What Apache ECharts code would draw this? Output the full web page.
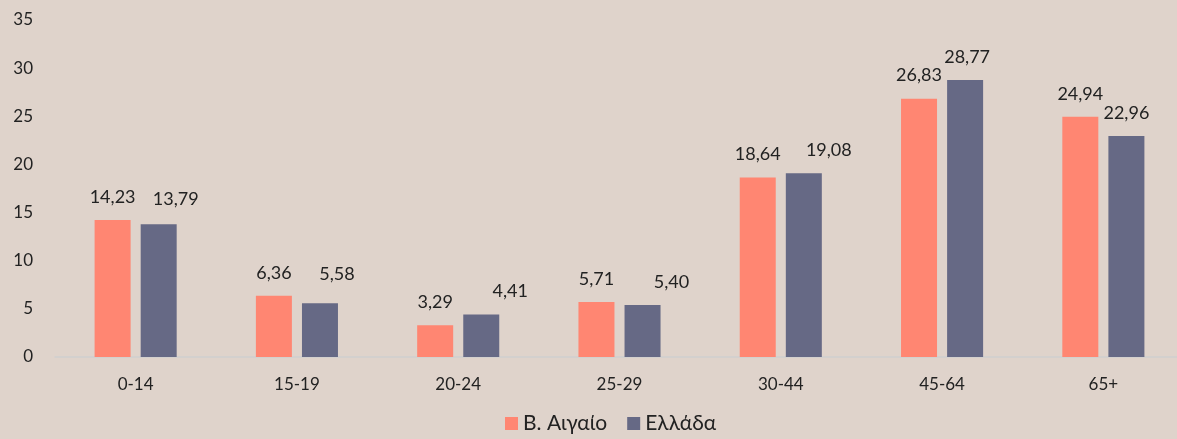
<!DOCTYPE html>
<html>
<head>
<meta charset="utf-8">
<script src="https://cdn.jsdelivr.net/npm/echarts@6/dist/echarts.min.js"></script>
<style>
  html, body { margin: 0; padding: 0; background: #dfd3cb; overflow: hidden; }
  #chart { width: 1190px; height: 439px; }
</style>
</head>
<body>
<div id="chart"></div>
<script>
  // ηλικιακές ομάδες
  var categories = ['0-14', '15-19', '20-24', '25-29', '30-44', '45-64', '65+'];
  var seriesNames = ['Β. Αιγαίο', 'Ελλάδα'];
  var aigaio = [14.23, 6.36, 3.29, 5.71, 18.64, 26.83, 24.94];
  var ellada = [13.79, 5.58, 4.41, 5.40, 19.08, 28.77, 22.96];
  var yTicks = [0, 5, 10, 15, 20, 25, 30, 35];

  // μετατόπιση ετικετών όπως στο Excel
  var elladaLabelShift = [[17, -2], [17, -6], [29, 0], [29, 0], [25, 0], [2, 0], [0, 0]];

  var fontName = 'Lato';
  var fmt = function (p) { return p.value.toFixed(2).replace('.', ','); };

  var chart = echarts.init(document.getElementById('chart'));
  chart.setOption({
    backgroundColor: '#dfd3cb',
    textStyle: { fontFamily: fontName },
    grid: { left: 55, top: 20, right: 6, bottom: 82 },
    legend: {
      bottom: 0,
      left: 500,
      itemWidth: 13,
      itemHeight: 13,
      itemGap: 20,
      icon: 'rect',
      textStyle: { fontSize: 21, color: '#222', fontFamily: fontName },
      data: seriesNames
    },
    xAxis: {
      type: 'category',
      data: categories,
      axisLine: { lineStyle: { color: '#d0d0d0', width: 1.5 } },
      axisTick: { show: false },
      axisLabel: { color: '#222', fontSize: 17, margin: 19 }
    },
    yAxis: {
      type: 'value',
      min: yTicks[0],
      max: yTicks[yTicks.length - 1],
      interval: 5,
      splitLine: { show: false },
      axisLine: { show: false },
      axisLabel: { color: '#222', fontSize: 17, margin: 22 }
    },
    series: [
      {
        name: seriesNames[0],
        type: 'bar',
        data: aigaio,
        barWidth: 36,
        barGap: '28%',
        itemStyle: { color: '#ff8672' },
        label: { show: true, position: 'top', distance: 14, color: '#222', fontSize: 18, formatter: fmt }
      },
      {
        name: seriesNames[1],
        type: 'bar',
        barWidth: 36,
        barGap: '28%',
        itemStyle: { color: '#666985' },
        data: ellada.map(function (v, i) {
          return { value: v, label: { offset: elladaLabelShift[i] } };
        }),
        label: { show: true, position: 'top', distance: 14, color: '#222', fontSize: 18, formatter: fmt }
      }
    ]
  });
</script>
</body>
</html>
